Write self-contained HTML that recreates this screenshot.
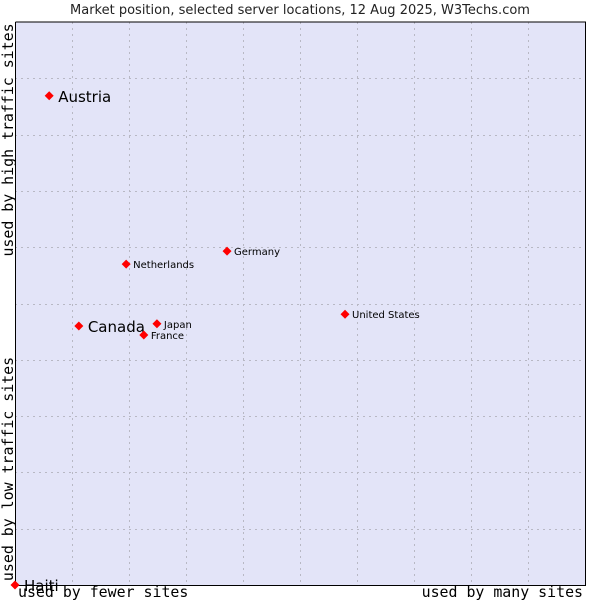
<!DOCTYPE html>
<html><head><meta charset="utf-8"><style>
body{margin:0;background:#fff;}
svg text{font-family:"DejaVu Sans",sans-serif;}
</style></head><body>
<svg id="chart" width="600" height="600" xmlns="http://www.w3.org/2000/svg">
<text x="300" y="14" text-anchor="middle" font-size="13" fill="#222">Market position, selected server locations, 12 Aug 2025, W3Techs.com</text>
<rect x="15" y="22" width="570" height="563" fill="#e3e4f8"/>
<g id="grid"></g>
<path d="M15.5 22 V585.5 H585.5 V22 H15.5" fill="none" stroke="#000" stroke-width="1"/>
<text transform="translate(13,140) rotate(-90)" text-anchor="middle" font-size="14.9" fill="#000" style="font-family:'DejaVu Sans Mono',monospace">used by high traffic sites</text>
<text transform="translate(13,469) rotate(-90)" text-anchor="middle" font-size="14.9" fill="#000" style="font-family:'DejaVu Sans Mono',monospace">used by low traffic sites</text>
<text x="18" y="597" font-size="14.9" fill="#000" style="font-family:'DejaVu Sans Mono',monospace">used by fewer sites</text>
<text x="583" y="597" text-anchor="end" font-size="14.9" fill="#000" style="font-family:'DejaVu Sans Mono',monospace">used by many sites</text>
<g id="points"></g>
</svg>
<script>
const countries=["Austria","Canada","Netherlands","Germany","Japan","France","United States","Haiti"];
const xValues=[6.0,11.2,19.5,37.2,24.9,22.6,57.9,0];
const yValues=[86.9,46.0,57.0,59.3,46.4,44.4,48.1,0];
const bigLabel=[true,true,false,false,false,false,false,true];
const NS="http://www.w3.org/2000/svg";
const L=15,T=22,W=570,H=563;
const sx=v=>L+v/100*W, sy=v=>T+H-v/100*H;
const grid=document.getElementById('grid');
for(let i=1;i<10;i++){
 const vx=document.createElementNS(NS,'line');
 const x=Math.round(sx(i*10))+0.5;
 vx.setAttribute('x1',x);vx.setAttribute('x2',x);vx.setAttribute('y1',T);vx.setAttribute('y2',T+H);
 vx.setAttribute('stroke','#b8b8c4');vx.setAttribute('stroke-dasharray','2,4');
 
 
 grid.appendChild(vx);
 const hy=document.createElementNS(NS,'line');
 const y=Math.round(sy(i*10))+0.5;
 hy.setAttribute('x1',L);hy.setAttribute('x2',L+W);hy.setAttribute('y1',y);hy.setAttribute('y2',y);
 hy.setAttribute('stroke','#b8b8c4');hy.setAttribute('stroke-dasharray','2,4');
 
 
 grid.appendChild(hy);
}
const pts=document.getElementById('points');
countries.forEach((c,i)=>{
 const x=sx(xValues[i]),y=sy(yValues[i]);
 const p=document.createElementNS(NS,'path');
 p.setAttribute('d',`M${x} ${y-4.5}L${x+4.5} ${y}L${x} ${y+4.5}L${x-4.5} ${y}Z`);
 p.setAttribute('fill','#f00');
 
 
 pts.appendChild(p);
 const t=document.createElementNS(NS,'text');
 t.setAttribute('x',x+(bigLabel[i]?9:7));
 t.setAttribute('y',y+(bigLabel[i]?6:4));
 t.setAttribute('font-size',bigLabel[i]?'15':'10');
 t.setAttribute('fill','#000');
 t.textContent=c;
 
 
 pts.appendChild(t);
});
</script>
</body></html>
